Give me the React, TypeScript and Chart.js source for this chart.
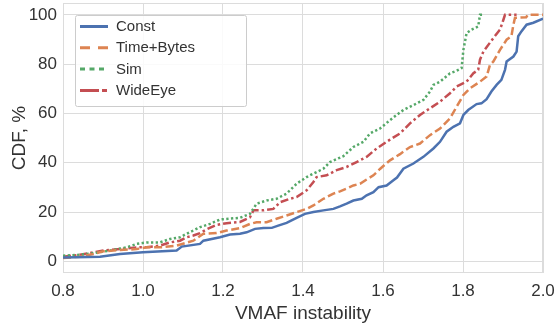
import React, { useEffect, useRef } from 'react';
import { Chart, registerables } from 'chart.js';

Chart.register(...registerables);

const seriesNames = ['Const', 'Time+Bytes', 'Sim', 'WideEye'];

const constX = [0.8, 0.8925, 0.9425, 1.0, 1.084, 1.097, 1.1425, 1.151, 1.1925, 1.2175, 1.2425, 1.259, 1.28, 1.301, 1.322, 1.338, 1.359, 1.384, 1.405, 1.426, 1.451, 1.476, 1.4925, 1.509, 1.526, 1.547, 1.559, 1.576, 1.589, 1.609, 1.626, 1.635, 1.651, 1.676, 1.701, 1.726, 1.7425, 1.759, 1.776, 1.7925, 1.801, 1.813, 1.834, 1.846, 1.859, 1.871, 1.884, 1.896, 1.905, 1.909, 1.926, 1.934, 1.938, 1.946, 1.959, 1.976, 2.0, 2.03];
const constY = [1.6, 1.9, 3, 3.7, 4.4, 6, 7.1, 8.4, 9.8, 10.9, 11.2, 11.8, 13.2, 13.5, 13.6, 14.5, 15.6, 17.7, 19.3, 20, 20.7, 21.3, 22.3, 23.4, 24.7, 25.4, 26.8, 28.1, 30.1, 30.8, 32.9, 34, 37.6, 39.7, 42.4, 45.8, 48.5, 52.6, 54.6, 56, 59.4, 61.4, 63.8, 64.1, 65.8, 68.9, 71.6, 73.6, 77.7, 81.1, 83.1, 85.1, 91.3, 93.3, 96, 96.8, 98.5, 100];

const timeBytesX = [0.8, 0.8425, 0.876, 0.901, 0.9425, 0.984, 1.009, 1.0425, 1.084, 1.126, 1.151, 1.184, 1.209, 1.2425, 1.2675, 1.284, 1.309, 1.334, 1.359, 1.384, 1.409, 1.426, 1.451, 1.476, 1.4925, 1.509, 1.526, 1.5425, 1.559, 1.576, 1.5925, 1.6175, 1.6425, 1.6675, 1.6925, 1.7175, 1.7425, 1.7675, 1.784, 1.801, 1.8175, 1.8425, 1.859, 1.8675, 1.876, 1.8925, 1.909, 1.921, 1.926, 1.93, 1.958, 1.962, 2.0];
const timeBytesY = [1.4, 1.9, 3, 4.1, 4.6, 5, 5.7, 5.7, 6.4, 8.4, 11.2, 11.5, 12.5, 13.5, 15.2, 15.9, 15.9, 17.3, 18.6, 20, 21.3, 22.7, 25.4, 27.5, 28.4, 29.5, 30.8, 31.5, 33.2, 34.9, 37.5, 41, 43.5, 46.4, 47.8, 51.2, 53.9, 58, 62.7, 67.5, 70.2, 72.9, 75, 79.7, 81.1, 85.8, 89.9, 91.3, 96, 98.8, 99, 100, 100];

const simX = [0.8, 0.8425, 0.876, 0.9175, 0.959, 0.984, 1.009, 1.0425, 1.0675, 1.0925, 1.109, 1.1425, 1.1675, 1.1925, 1.2425, 1.2675, 1.284, 1.309, 1.334, 1.359, 1.384, 1.409, 1.426, 1.451, 1.4675, 1.501, 1.526, 1.551, 1.5675, 1.5925, 1.6175, 1.634, 1.651, 1.676, 1.701, 1.7175, 1.726, 1.7425, 1.7675, 1.784, 1.7965, 1.801, 1.809, 1.8215, 1.838, 1.8425, 1.851];
const simY = [2.3, 2.7, 3.3, 4.4, 5.7, 7.1, 7.7, 7.7, 9.1, 9.8, 11.2, 13.9, 15.2, 17, 17.7, 19.3, 23.4, 24.7, 25.4, 27.5, 31.5, 34.2, 35.6, 37.6, 40.3, 42.7, 46.4, 48.5, 51.9, 53.9, 57.3, 59.4, 61.4, 63.4, 65.5, 68.9, 71.6, 72.9, 76.3, 77.3, 78.4, 85.8, 92.6, 94, 95.3, 100, 100];

const wideEyeX = [0.8, 0.8425, 0.876, 0.901, 0.9425, 0.984, 1.009, 1.0425, 1.0675, 1.0925, 1.109, 1.126, 1.1425, 1.159, 1.184, 1.209, 1.2425, 1.2675, 1.276, 1.301, 1.326, 1.3425, 1.3675, 1.384, 1.409, 1.426, 1.434, 1.459, 1.484, 1.509, 1.534, 1.559, 1.584, 1.609, 1.6175, 1.6425, 1.6675, 1.6925, 1.7175, 1.7425, 1.7675, 1.784, 1.809, 1.826, 1.838, 1.8425, 1.851, 1.876, 1.8925, 1.901, 1.905, 1.934];
const wideEyeY = [1.9, 2.7, 3.7, 4.4, 5, 5.7, 5.7, 6.4, 7.7, 8.4, 9.8, 10.5, 11.5, 13, 14.8, 15.5, 16, 17.9, 20.7, 20.7, 21.3, 24, 25.4, 26.1, 28.8, 32.2, 34.2, 34.9, 37, 38.3, 40.3, 42.4, 45.8, 48.5, 49.4, 51.9, 56, 59.4, 62.1, 64.8, 68.2, 70.9, 72.9, 76.3, 77.7, 81.8, 85.1, 90.6, 94, 98, 100, 100];

const xTicks = [0.8, 1.0, 1.2, 1.4, 1.6, 1.8, 2.0];
const yTicks = [0, 20, 40, 60, 80, 100];

const TEXT = '#333333';
const GRID = '#dcdcdc';
const FONT = "'Liberation Sans', Arial, Helvetica, sans-serif";

const toPoints = (xs: number[], ys: number[]) => xs.map((x, i) => ({ x, y: ys[i] }));

const framePlugin = {
  id: 'frame',
  beforeDatasetsDraw(chart: any) {
    const { ctx, chartArea: a } = chart;
    ctx.save();
    ctx.strokeStyle = GRID;
    ctx.lineWidth = 1;
    ctx.strokeRect(Math.round(a.left) + 0.5, Math.round(a.top) + 0.5, Math.round(a.right - a.left) - 1, Math.round(a.bottom - a.top) - 1);
    ctx.restore();
  },
};

const legendPlugin = {
  id: 'innerLegend',
  afterDraw(chart: any) {
    const { ctx } = chart;
    const boxL = 75, boxT = 15, boxW = 171, boxH = 91;
    ctx.save();
    ctx.fillStyle = 'rgba(255,255,255,0.85)';
    ctx.strokeStyle = '#cccccc';
    ctx.lineWidth = 1;
    ctx.beginPath();
    (ctx as any).roundRect(boxL + 0.5, boxT + 0.5, boxW, boxH, 2);
    ctx.fill();
    ctx.stroke();
    chart.data.datasets.forEach((ds: any, i: number) => {
      const y = 26.5 + i * 21.3;
      ctx.setLineDash(ds.legendDash || ds.borderDash || []);
      ctx.strokeStyle = ds.borderColor;
      ctx.lineWidth = 3;
      ctx.beginPath();
      ctx.moveTo(80, y);
      ctx.lineTo(108, y);
      ctx.stroke();
      ctx.setLineDash([]);
      ctx.fillStyle = TEXT;
      ctx.font = `15px ${FONT}`;
      ctx.textBaseline = 'middle';
      ctx.textAlign = 'left';
      ctx.fillText(ds.label, 116, y + 0.5);
    });
    ctx.restore();
  },
};

export default function App() {
  const ref = useRef<HTMLCanvasElement>(null);
  useEffect(() => {
    if (!ref.current) return;
    const chart = new Chart(ref.current, {
      type: 'line',
      data: {
        datasets: [
          { label: seriesNames[0], data: toPoints(constX, constY), borderColor: '#4C72B0', borderWidth: 2.5, borderDash: [], legendDash: [] },
          { label: seriesNames[1], data: toPoints(timeBytesX, timeBytesY), borderColor: '#DD8452', borderWidth: 2.5, borderDash: [8, 3.5], legendDash: [10, 8] },
          { label: seriesNames[2], data: toPoints(simX, simY), borderColor: '#55A868', borderWidth: 2.5, borderDash: [2.3, 2.4], legendDash: [5, 4.5] },
          { label: seriesNames[3], data: toPoints(wideEyeX, wideEyeY), borderColor: '#C44E52', borderWidth: 2.5, borderDash: [8, 3, 2.5, 3], legendDash: [19, 3, 5, 10] },
        ].map((d) => ({ ...d, pointRadius: 0, tension: 0, fill: false })),
      },
      options: {
        animation: false,
        responsive: false,
        devicePixelRatio: 1,
        layout: { padding: { left: 0, top: 3, right: 12, bottom: 0 } },
        plugins: { legend: { display: false }, tooltip: { enabled: false } },
        scales: {
          x: {
            type: 'linear',
            min: 0.8,
            max: 2.0,
            afterBuildTicks: (s: any) => { s.ticks = xTicks.map((v) => ({ value: v })); },
            afterFit: (s: any) => { s.height = 57; s.paddingLeft = 0; s.paddingRight = 0; },
            ticks: {
              callback: (v: any) => Number(v).toFixed(1),
              font: { size: 17, family: FONT },
              color: TEXT,
              padding: 8,
              autoSkip: false,
              maxRotation: 0,
            },
            grid: { color: GRID, lineWidth: 1, drawTicks: false },
            border: { display: false },
            title: { display: true, text: 'VMAF instability', font: { size: 19, family: FONT }, color: TEXT, padding: { top: 0, bottom: 5 } },
          },
          y: {
            type: 'linear',
            min: -4.7,
            max: 104.8,
            afterBuildTicks: (s: any) => { s.ticks = yTicks.map((v) => ({ value: v })); },
            afterFit: (s: any) => { s.width = 63; s.paddingTop = 0; s.paddingBottom = 0; },
            ticks: {
              callback: (v: any) => String(Math.round(Number(v))),
              font: { size: 17, family: FONT },
              color: TEXT,
              padding: 6,
            },
            grid: { color: GRID, lineWidth: 1, drawTicks: false },
            border: { display: false },
            title: { display: true, text: 'CDF, %', font: { size: 19, family: FONT }, color: TEXT, padding: { top: 8, bottom: 0 } },
          },
        },
      },
      plugins: [framePlugin, legendPlugin],
    } as any);
    return () => chart.destroy();
  }, []);
  return (
    <div style={{ position: 'absolute', left: 0, top: 0, width: 555, height: 330, background: '#fff' }}>
      <canvas ref={ref} width={555} height={330} style={{ width: 555, height: 330, display: 'block' }} />
    </div>
  );
}
